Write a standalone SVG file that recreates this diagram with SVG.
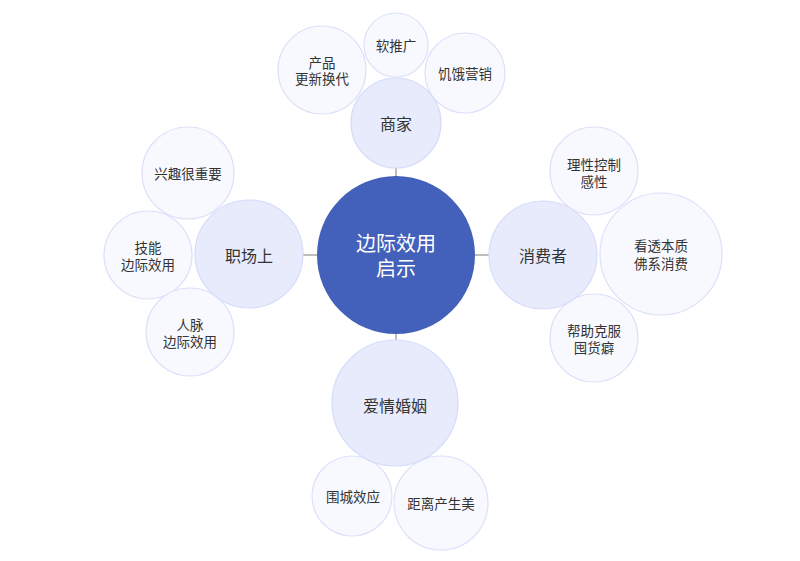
<svg xmlns="http://www.w3.org/2000/svg" width="800" height="561" viewBox="0 0 800 561">
<style>
text{font-family:"Noto Sans CJK SC","Liberation Sans",sans-serif;text-anchor:middle;dominant-baseline:central;fill:#333}
.root{fill:#4360BA}
.root-t{fill:#fff;font-size:20px}
.main{fill:#E8EBFC;stroke:#D6DCFA;stroke-width:1.2}
.main-t{font-size:16px}
.leaf{fill:#F8F9FE;stroke:#DCE1FA;stroke-width:1.2}
.leaf-t{font-size:13.5px}
.conn line{stroke:#999;stroke-width:1.3}
</style>
<rect width="800" height="561" fill="#fff"/>
<g id="connectors" class="conn">
<line x1="396" y1="166" x2="396" y2="178"/>
<line x1="302" y1="255" x2="318" y2="255"/>
<line x1="475" y1="255" x2="489" y2="255"/>
<line x1="396" y1="332" x2="396" y2="342"/>
</g>
<g id="n-root"><circle class="root" cx="396" cy="255" r="79"/><text class="root-t" x="396" y="242">边际效用</text><text class="root-t" x="396" y="267">启示</text></g>
<g id="n-cp"><circle class="leaf" cx="322" cy="70" r="44"/><text class="leaf-t" x="322" y="62">产品</text><text class="leaf-t" x="322" y="78">更新换代</text></g>
<g id="n-rtg"><circle class="leaf" cx="396" cy="45" r="32"/><text class="leaf-t" x="396" y="45">软推广</text></g>
<g id="n-jeyx"><circle class="leaf" cx="465" cy="73" r="40"/><text class="leaf-t" x="465" y="73">饥饿营销</text></g>
<g id="n-sj"><circle class="main" cx="396" cy="123" r="45"/><text class="main-t" x="396" y="123">商家</text></g>
<g id="n-xq"><circle class="leaf" cx="188" cy="173" r="46"/><text class="leaf-t" x="188" y="173">兴趣很重要</text></g>
<g id="n-jn"><circle class="leaf" cx="148" cy="255" r="44"/><text class="leaf-t" x="148" y="247">技能</text><text class="leaf-t" x="148" y="264">边际效用</text></g>
<g id="n-rm"><circle class="leaf" cx="190" cy="332" r="44"/><text class="leaf-t" x="190" y="324">人脉</text><text class="leaf-t" x="190" y="341">边际效用</text></g>
<g id="n-zc"><circle class="main" cx="249" cy="254" r="54"/><text class="main-t" x="249" y="255">职场上</text></g>
<g id="n-lx"><circle class="leaf" cx="594" cy="171" r="44"/><text class="leaf-t" x="594" y="164">理性控制</text><text class="leaf-t" x="594" y="181">感性</text></g>
<g id="n-kt"><circle class="leaf" cx="661" cy="254" r="61"/><text class="leaf-t" x="661" y="245">看透本质</text><text class="leaf-t" x="661" y="263">佛系消费</text></g>
<g id="n-bz"><circle class="leaf" cx="594" cy="338" r="44"/><text class="leaf-t" x="594" y="330">帮助克服</text><text class="leaf-t" x="594" y="347">囤货癖</text></g>
<g id="n-xf"><circle class="main" cx="543" cy="255" r="54"/><text class="main-t" x="543" y="255">消费者</text></g>
<g id="n-wc"><circle class="leaf" cx="352" cy="496" r="40"/><text class="leaf-t" x="353" y="496">围城效应</text></g>
<g id="n-jl"><circle class="leaf" cx="441" cy="503" r="47"/><text class="leaf-t" x="441" y="503">距离产生美</text></g>
<g id="n-aq"><circle class="main" cx="395" cy="403" r="63"/><text class="main-t" x="395" y="405">爱情婚姻</text></g>
</svg>
